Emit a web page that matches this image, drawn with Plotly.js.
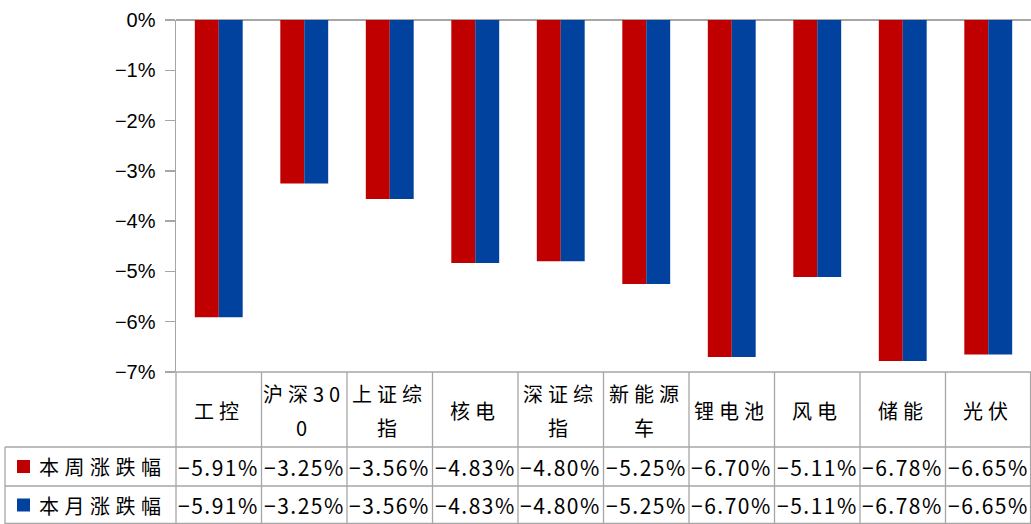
<!DOCTYPE html>
<html>
<head>
<meta charset="utf-8">
<script src="https://cdn.plot.ly/plotly-3.0.1.min.js"></script>
<style>html,body{margin:0;padding:0;background:#fff;}#chart{width:1031px;height:524px;}</style>
</head>
<body>
<div id="chart"></div>
<script>
const categories = ['工控','沪深300','上证综指','核电','深证综指','新能源车','锂电池','风电','储能','光伏'];
const categoryLabels = ['工控','沪深30<br>0','上证综<br>指','核电','深证综<br>指','新能源<br>车','锂电池','风电','储能','光伏'];
const seriesNames = ['本周涨跌幅','本月涨跌幅'];
const weekChange = [-5.91,-3.25,-3.56,-4.83,-4.80,-5.25,-6.70,-5.11,-6.78,-6.65];
const monthChange = [-5.91,-3.25,-3.56,-4.83,-4.80,-5.25,-6.70,-5.11,-6.78,-6.65];
const seriesValues = [weekChange, monthChange];
const seriesColors = ['#C00000','#00429D'];

const W = 1031, H = 524;
const M = {l:176, r:0, t:20, b:152};
const PW = W - M.l - M.r, PH = H - M.t - M.b;
const px2x = p => (p - M.l) / PW;
const py2y = p => (H - M.b - p) / PH;
const N = categories.length;
const catX = i => (i + 0.5) / N;

const lineColor = '#A6A6A6';
const cjk = '"Noto Sans CJK SC", "Noto Sans", sans-serif';
const fmt = v => (v < 0 ? '\u2212' : '') + Math.abs(v).toFixed(2) + '%';
const spaced = (t, s) => '<span style="letter-spacing:' + s + 'px">' + t + '</span>';

const traces = seriesValues.map((vals, k) => ({
  type: 'bar', x: categories, y: vals, name: seriesNames[k],
  marker: {color: seriesColors[k], line: {width: 0}}, hoverinfo: 'skip'
}));

const rowTop = [447, 486];
const rowBot = [486, 524];
const shapes = [];
const annotations = [];
const L = (x0,y0,x1,y1) => shapes.push({type:'line', xref:'paper', yref:'paper', x0, y0, x1, y1, line:{color:lineColor, width:1.3}});
// table top
L(0, 0, 1, 0);
// row lines
L(px2x(5), py2y(447), 1, py2y(447));
L(px2x(5), py2y(486), 1, py2y(486));
L(px2x(5), py2y(523.5), 1, py2y(523.5));
// left border of legend column
L(px2x(5), py2y(447), px2x(5), py2y(524));
// vertical category boundaries
for (let k = 0; k <= N; k++) {
  const x = Math.min(k / N, 0.9995);
  L(x, 0, x, py2y(524));
}
// header labels (each wrapped line placed separately)
categoryLabels.forEach((lab, i) => {
  const lines = lab.split('<br>');
  const ys = lines.length === 1 ? [410] : [393, 427];
  lines.forEach((ln, j) => annotations.push({
    xref:'paper', yref:'paper', x: catX(i), y: py2y(ys[j]), text: spaced(ln, 5), showarrow:false,
    xanchor:'center', yanchor:'middle', font:{family:cjk, size:20, color:'#000'}
  }));
});
// data rows
seriesValues.forEach((vals, k) => {
  const yc = py2y((rowTop[k] + rowBot[k]) / 2);
  vals.forEach((v, i) => annotations.push({
    xref:'paper', yref:'paper', x: catX(i), y: yc, text: spaced(fmt(v), 1.5), showarrow:false,
    xanchor:'center', yanchor:'middle', font:{family:cjk, size:21, color:'#000'}
  }));
  shapes.push({type:'rect', xref:'paper', yref:'paper', x0: px2x(17), x1: px2x(30),
    y0: yc - 6.5/PH, y1: yc + 6.5/PH, fillcolor: seriesColors[k], line:{width:0}});
  annotations.push({xref:'paper', yref:'paper', x: px2x(37), y: yc, text: spaced(seriesNames[k], 5.5), showarrow:false,
    xanchor:'left', yanchor:'middle', font:{family:cjk, size:20, color:'#000'}});
});

const layout = {
  width: W, height: H, margin: M, paper_bgcolor:'#fff', plot_bgcolor:'#fff',
  barmode:'group', bargap:0.44, bargroupgap:0, showlegend:false,
  font:{family:'"Liberation Sans", Arial, sans-serif', color:'#000'},
  xaxis:{type:'category', showticklabels:false, showline:false, showgrid:false, zeroline:false, ticks:'', fixedrange:true},
  yaxis:{range:[-7,0], dtick:1, tick0:0, ticksuffix:'%', showgrid:false, zeroline:true, zerolinecolor:lineColor, zerolinewidth:1.5,
    showline:true, linecolor:lineColor, linewidth:1.5, ticks:'outside', ticklen:10, tickcolor:lineColor, tickwidth:1.3,
    tickfont:{size:20, family:'"Liberation Sans", Arial, sans-serif', color:'#000'}, ticklabelstandoff:5, fixedrange:true},
  shapes, annotations
};
Plotly.newPlot('chart', traces, layout, {displayModeBar:false, staticPlot:true});
</script>
</body>
</html>
